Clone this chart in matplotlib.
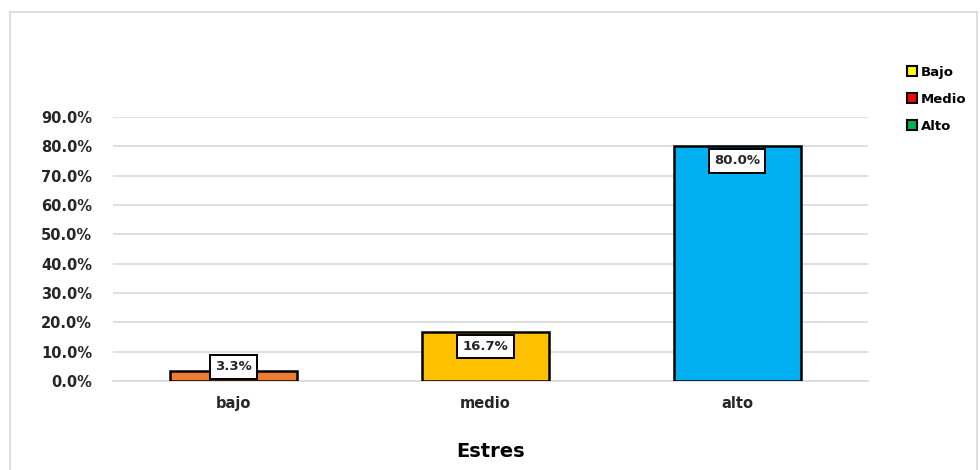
import matplotlib.pyplot as plt
from matplotlib.lines import Line2D
from matplotlib.patches import Patch

# datos del grafico
categorias = ["bajo", "medio", "alto"]
porcentajes = [0.033, 0.167, 0.80]
colores = ["#ed7d31", "#ffc000", "#00b0f0"]
leyenda = ["Bajo", "Medio", "Alto"]
colores_leyenda = ["#ffff00", "#ff0000", "#00b050"]
yticks = [0.0, 0.1, 0.2, 0.3, 0.4, 0.5, 0.6, 0.7, 0.8, 0.9]

plt.rcParams['font.family'] = ['DejaVu Sans']
plt.rcParams['font.weight'] = 'bold'

fig = plt.figure(figsize=(9.8, 4.7), dpi=100)
ax = fig.add_axes([0.1153, 0.1894, 0.7704, 0.5617])

x = range(len(categorias))
ax.bar(x, porcentajes, width=0.505, color=colores, edgecolor="black", linewidth=1.8, zorder=3)

# etiquetas de valor dentro de una caja blanca
for i, v in enumerate(porcentajes):
    ypos = max(v - 0.05, 0.048)
    ax.text(i, ypos, f"{v*100:.1f}%", ha="center", va="center", fontsize=9.5,
            fontweight="bold", color="#262626", zorder=4,
            bbox=dict(boxstyle="square,pad=0.4", fc="white", ec="black", lw=1.4))

ax.set_xlim(-0.48, 2.52)
ax.set_ylim(0, 0.9)
ax.set_yticks(yticks)
ax.set_yticklabels([f"{t*100:.1f}%" for t in yticks], fontsize=10.5, color="#262626")
ax.set_xticks(list(x))
ax.set_xticklabels(categorias, fontsize=10.5, color="#262626")
ax.tick_params(axis="y", length=0, pad=15)
ax.tick_params(axis="x", length=0, pad=11)
ax.yaxis.grid(True, color="#d9d9d9", linewidth=1.2, zorder=0)
ax.set_axisbelow(True)
for s in ["left", "right", "top"]:
    ax.spines[s].set_visible(False)
ax.spines["bottom"].set_color("#d9d9d9")
ax.spines["bottom"].set_linewidth(1.2)

ax.set_xlabel("Estres", fontsize=14, fontweight="bold", labelpad=22)

handles = [Patch(facecolor=c, edgecolor="black", linewidth=1.5) for c in colores_leyenda]
fig.legend(handles, leyenda, loc="upper left", bbox_to_anchor=(0.913, 0.885),
           frameon=False, fontsize=9.5, handlelength=0.8, handleheight=0.8,
           handletextpad=0.3, labelspacing=1.05)

# borde del area del grafico
fig.add_artist(Line2D([10/980, 10/980], [0, 1 - 12/470], color="#d9d9d9", lw=1.2))
fig.add_artist(Line2D([10/980, 977/980], [1 - 12/470, 1 - 12/470], color="#d9d9d9", lw=1.2))
fig.add_artist(Line2D([977/980, 977/980], [0, 1 - 12/470], color="#d9d9d9", lw=1.2))

fig.savefig("out.png", dpi=100, facecolor="white")
